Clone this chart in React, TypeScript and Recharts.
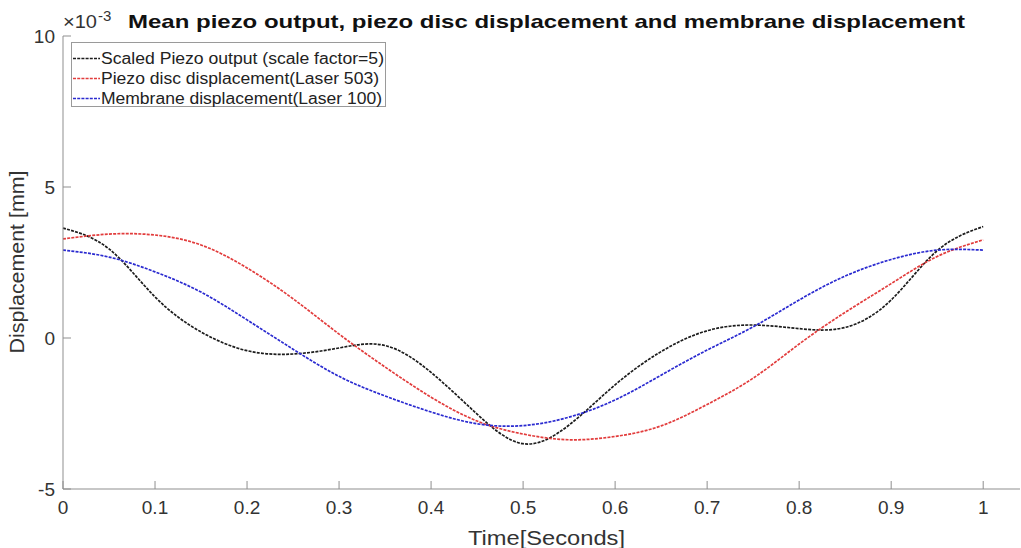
import React from 'react';
import { LineChart, Line, XAxis, YAxis, Legend } from 'recharts';

const times = [0, 0.05, 0.1, 0.15, 0.2, 0.25, 0.3, 0.35, 0.4, 0.45, 0.5, 0.55, 0.6, 0.65, 0.7, 0.75, 0.8, 0.85, 0.9, 0.95, 1.0];
const piezoOutput = [3.64, 2.95, 1.36, 0.2, -0.42, -0.53, -0.33, -0.25, -1.14, -2.52, -3.5, -2.88, -1.55, -0.45, 0.24, 0.43, 0.31, 0.35, 1.26, 2.89, 3.69];
const discDisplacement = [3.28, 3.44, 3.41, 3.08, 2.32, 1.3, 0.13, -0.96, -1.96, -2.75, -3.18, -3.37, -3.26, -2.91, -2.2, -1.33, -0.2, 0.85, 1.8, 2.7, 3.25];
const membraneDisplacement = [2.91, 2.68, 2.19, 1.52, 0.6, -0.37, -1.27, -1.92, -2.45, -2.84, -2.9, -2.62, -2.05, -1.23, -0.4, 0.37, 1.26, 2.05, 2.6, 2.91, 2.91];

const xTicks = [0, 0.1, 0.2, 0.3, 0.4, 0.5, 0.6, 0.7, 0.8, 0.9, 1];
const yTicks = [-5, 0, 5, 10];
const xDomain = [0, 1.04];
const yDomain = [-5, 10];

const seriesNames = [
  'Scaled Piezo output (scale factor=5)',
  'Piezo disc displacement(Laser 503)',
  'Membrane displacement(Laser 100)',
];
const seriesColors = ['#1c1c1c', '#e23c3c', '#2a2ad0'];
const legendWidths = [283, 278, 281];

const data = times.map((t, i) => ({
  t,
  piezo: piezoOutput[i],
  disc: discDisplacement[i],
  membrane: membraneDisplacement[i],
}));

const FONT = '"Liberation Sans", Arial, Helvetica, sans-serif';
const AXIS = '#8f8f8f';
const TICKTEXT = '#333333';
const TICKLEN = 8;

const BottomTick = (props: any) => {
  const { x, y, payload } = props;
  return (
    <g>
      <line x1={x} x2={x} y1={y} y2={y - TICKLEN} stroke={AXIS} strokeWidth={1} />
      <text x={x} y={y + 25} textAnchor="middle" fontSize={19} fontFamily={FONT} fill={TICKTEXT}>
        {String(payload.value)}
      </text>
    </g>
  );
};

const TopTick = (props: any) => {
  const { x, y } = props;
  return <line x1={x} x2={x} y1={y} y2={y + TICKLEN} stroke={AXIS} strokeWidth={1} />;
};

const LeftTick = (props: any) => {
  const { x, y, payload } = props;
  return (
    <g>
      <line x1={x} x2={x + TICKLEN} y1={y} y2={y} stroke={AXIS} strokeWidth={1} />
      <text x={x - 8} y={y + 6.5} textAnchor="end" fontSize={19} fontFamily={FONT} fill={TICKTEXT}>
        {String(payload.value)}
      </text>
    </g>
  );
};

const RightTick = (props: any) => {
  const { x, y } = props;
  return <line x1={x} x2={x - TICKLEN} y1={y} y2={y} stroke={AXIS} strokeWidth={1} />;
};

const LegendContent = (props: any) => {
  const payload = [...(props.payload || [])].sort(
    (a: any, b: any) => seriesNames.indexOf(a.value) - seriesNames.indexOf(b.value)
  );
  return (
    <svg width={316} height={66} style={{ display: 'block' }}>
      <rect x={0.5} y={0.5} width={314} height={64} fill="#ffffff" stroke="#9a9a9a" strokeWidth={1} />
      {payload.map((p: any, i: number) => {
        const cy = 16.5 + i * 20;
        return (
          <g key={i}>
            <line x1={2} x2={29} y1={cy} y2={cy} stroke={p.color} strokeWidth={1.5} strokeDasharray="3 1.2" />
            <text
              x={30}
              y={cy + 5.8}
              fontSize={16}
              fontFamily={FONT}
              fill="#222"
              textLength={legendWidths[seriesNames.indexOf(p.value)]}
              lengthAdjust="spacingAndGlyphs"
            >
              {p.value}
            </text>
          </g>
        );
      })}
    </svg>
  );
};

export default function App() {
  return (
    <div style={{ position: 'absolute', left: 0, top: 0, width: 1021, height: 548, background: '#fff' }}>
      <LineChart width={1021} height={548} data={data} margin={{ top: 36, right: 1, bottom: 0, left: 0 }}>
        <XAxis
          xAxisId="b"
          dataKey="t"
          type="number"
          domain={xDomain}
          ticks={xTicks}
          interval={0}
          height={59}
          tickSize={0}
          tickMargin={0}
          tick={BottomTick}
          axisLine={{ stroke: AXIS }}
          tickLine={false}
        />
        <XAxis
          xAxisId="top"
          orientation="top"
          dataKey="t"
          type="number"
          domain={xDomain}
          ticks={xTicks}
          interval={0}
          height={0}
          tickSize={0}
          tickMargin={0}
          tick={TopTick}
          axisLine={{ stroke: AXIS }}
          tickLine={false}
        />
        <YAxis
          yAxisId="l"
          type="number"
          domain={yDomain}
          ticks={yTicks}
          interval={0}
          width={63}
          tickSize={0}
          tickMargin={0}
          tick={LeftTick}
          axisLine={{ stroke: AXIS }}
          tickLine={false}
        />
        <YAxis
          yAxisId="r"
          orientation="right"
          type="number"
          domain={yDomain}
          ticks={yTicks}
          interval={0}
          width={0}
          tickSize={0}
          tickMargin={0}
          tick={RightTick}
          axisLine={{ stroke: AXIS }}
          tickLine={false}
        />
        <Legend
          content={LegendContent}
          layout="vertical"
          align="center"
          verticalAlign="middle"
          wrapperStyle={{ left: 71, top: 42, width: 316, height: 66 }}
        />
        <Line
          xAxisId="b"
          yAxisId="l"
          type="natural"
          dataKey="piezo"
          name={seriesNames[0]}
          stroke={seriesColors[0]}
          strokeWidth={1.7}
          strokeDasharray="3 1.2"
          dot={false}
          isAnimationActive={false}
        />
        <Line
          xAxisId="b"
          yAxisId="l"
          type="natural"
          dataKey="disc"
          name={seriesNames[1]}
          stroke={seriesColors[1]}
          strokeWidth={1.7}
          strokeDasharray="3 1.2"
          dot={false}
          isAnimationActive={false}
        />
        <Line
          xAxisId="b"
          yAxisId="l"
          type="natural"
          dataKey="membrane"
          name={seriesNames[2]}
          stroke={seriesColors[2]}
          strokeWidth={1.7}
          strokeDasharray="3 1.2"
          dot={false}
          isAnimationActive={false}
        />
      </LineChart>
      <svg
        width={1021}
        height={548}
        style={{ position: 'absolute', left: 0, top: 0, pointerEvents: 'none' }}
      >
        <text x={128} y={28} fontSize={19} fontWeight="bold" fontFamily={FONT} fill="#111" textLength={837} lengthAdjust="spacingAndGlyphs">
          Mean piezo output, piezo disc displacement and membrane displacement
        </text>
        <text x={63} y={28} fontSize={19} fontFamily={FONT} fill={TICKTEXT} textLength={34} lengthAdjust="spacingAndGlyphs">
          ×10
        </text>
        <text x={98} y={21} fontSize={15} fontFamily={FONT} fill={TICKTEXT}>
          -3
        </text>
        <text x={468} y={545} fontSize={20} fontFamily={FONT} fill={TICKTEXT} textLength={157} lengthAdjust="spacingAndGlyphs">
          Time[Seconds]
        </text>
        <text
          x={0}
          y={0}
          fontSize={21}
          fontFamily={FONT}
          fill={TICKTEXT}
          textAnchor="middle"
          textLength={183}
          lengthAdjust="spacingAndGlyphs"
          transform="translate(24,262) rotate(-90)"
        >
          Displacement [mm]
        </text>
      </svg>
    </div>
  );
}
